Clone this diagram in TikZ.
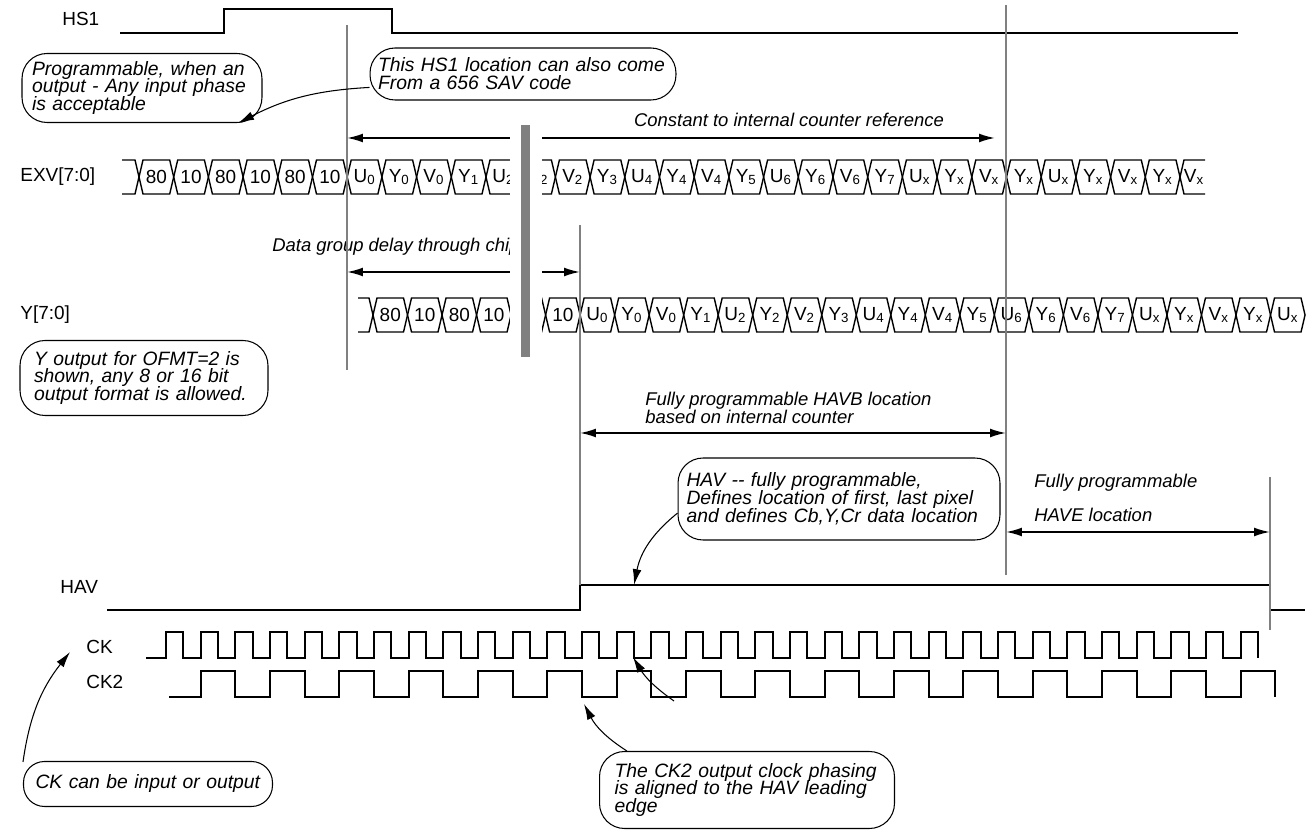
\documentclass[tikz,border=0pt]{standalone}
\usepackage{fontspec}
\setmainfont{Liberation Sans}
\usetikzlibrary{arrows.meta}

\begin{document}
\begin{tikzpicture}[x=0.02cm,y=-0.02cm,font=\fontsize{10.8}{12}\selectfont,
  sig/.style={anchor=west,inner sep=0pt},
  wave/.style={line width=1.1pt},
  bus/.style={line width=0.8pt},
  guide/.style={draw=gray,line width=1.1pt},
  note/.style={draw,line width=0.6pt,rounded corners=0.5cm,align=left,inner ysep=0pt,
    font={\fontsize{11}{10.2}\selectfont\itshape\lineskiplimit=-10pt\hyphenpenalty=10000}},
  remark/.style={inner sep=0pt,font={\fontsize{10.5}{10.4}\selectfont\itshape}},
  dim/.style={line width=1pt,{Latex[length=9pt,width=5pt]}-{Latex[length=9pt,width=5pt]}},
  pointer/.style={line width=0.6pt,-{Latex[length=9pt,width=5pt]}}]

\useasboundingbox (0,0) rectangle (1313,830);

% signal names
\node[sig] (hs1) at (62,19) {HS1};
\node[sig] (exv) at (20,177) {EXV[7:0]};
\node[sig] (ylbl) at (20,315) {Y[7:0]};
\node[sig] (hav) at (60,587) {HAV};
\node[sig] (ck) at (86,647) {CK};
\node[sig] (ck2) at (86,682) {CK2};

% HS1 and HAV
\draw[wave] (120,33) -- (224,33) -- (224,9) -- (392,9) -- (392,33) -- (1238,33);
\draw[wave] (107,610) -- (580,610) -- (580,585) -- (1270,585) -- (1270,610) -- (1305,610);

% clocks
\draw[wave] (146,658) \foreach \k in {0,...,31} { -- ({166+34.67*\k},658) -- ++(0,-26) -- ++(17.33,0) -- ++(0,26) };
\draw[wave] (169,697) \foreach \k in {1,3,...,31} { -- ({166+34.67*\k},697) -- ++(0,-26) -- ++(34.67,0) -- ++(0,26) };

% EXV bus
\draw[bus] (122,160) -- (135,160) -- (139,177) -- (135,194) -- (122,194);
\foreach \lbl [count=\i from 0] in {80,10,80,10,80,10,U\textsubscript{0},Y\textsubscript{0},V\textsubscript{0},Y\textsubscript{1},U\textsubscript{2},Y\textsubscript{2},V\textsubscript{2},Y\textsubscript{3},U\textsubscript{4},Y\textsubscript{4},V\textsubscript{4},Y\textsubscript{5},U\textsubscript{6},Y\textsubscript{6},V\textsubscript{6},Y\textsubscript{7},U\textsubscript{x},Y\textsubscript{x},V\textsubscript{x},Y\textsubscript{x},U\textsubscript{x},Y\textsubscript{x},V\textsubscript{x},Y\textsubscript{x}} {
  \pgfmathsetmacro\xl{139+34.7*\i}
  \pgfmathsetmacro\xr{\xl+34.7}
  \draw[bus] (\xl,177) -- (\xl+4,160) -- (\xr-4,160) -- (\xr,177) -- (\xr-4,194) -- (\xl+4,194) -- cycle;
  \node (exv\i) at ({(\xl+\xr)/2},177) {\lbl};
}
\draw[bus] (1205,160) -- (1184,160) -- (1180,177) -- (1184,194) -- (1205,194);
\node (exv30) at (1194,177) {V\textsubscript{x}};

% Y bus
\draw[bus] (358,298) -- (369,298) -- (373,315) -- (369,332) -- (358,332);
\foreach \lbl [count=\i from 0] in {80,10,80,10,80,10,U\textsubscript{0},Y\textsubscript{0},V\textsubscript{0},Y\textsubscript{1},U\textsubscript{2},Y\textsubscript{2},V\textsubscript{2},Y\textsubscript{3},U\textsubscript{4},Y\textsubscript{4},V\textsubscript{4},Y\textsubscript{5},U\textsubscript{6},Y\textsubscript{6},V\textsubscript{6},Y\textsubscript{7},U\textsubscript{x},Y\textsubscript{x},V\textsubscript{x},Y\textsubscript{x},U\textsubscript{x}} {
  \pgfmathsetmacro\xl{373+34.52*\i}
  \pgfmathsetmacro\xr{\xl+34.52}
  \draw[bus] (\xl,315) -- (\xl+4,298) -- (\xr-4,298) -- (\xr,315) -- (\xr-4,332) -- (\xl+4,332) -- cycle;
  \node (ybus\i) at ({(\xl+\xr)/2},315) {\lbl};
}

% timing remarks
\coordinate (cl) at (347,138);
\coordinate (cr) at (995,138);
\coordinate (dl) at (347,272);
\coordinate (dr) at (580,272);
\node[remark] (constlbl) at (789,120) {Constant to internal counter reference};
\draw[dim] (cl) -- (cr);
\node[remark,anchor=west] (delaylbl) at (272,247) {Data group delay through chip};
\draw[dim] (dl) -- (dr);

% break in the data
\fill[white] (510,110) rectangle (542,362);
\fill[gray] (521,125) rectangle (530,357);

% guide lines
\draw[guide] (347,25) -- (347,370);
\draw[guide] (580,225) -- (580,610);
\draw[guide] (1006,5) -- (1006,575);
\draw[guide] (1270,477) -- (1270,630);
\draw[wave] (580,610) -- (580,585);

% HAVB / HAVE
\coordinate (bl) at (580,433);
\coordinate (br) at (1006,433);
\coordinate (el) at (1006,532);
\coordinate (er) at (1270,532);
\node[remark,anchor=west,align=left] (havblbl) at (645,408) {Fully programmable HAVB location\\based on internal counter};
\draw[dim] (bl) -- (br);
\node[remark,anchor=west] (havelbl) at (1034,483) {Fully programmable};
\node[remark,anchor=west] (havelbl2) at (1034,515) {HAVE location};
\draw[dim] (el) -- (er);

% callouts
\node[note,minimum height=1.38cm,text width=4.4cm,inner xsep=0.2cm] (prog) at (142,88) {Programmable, when an\\output - Any input phase\\is acceptable};
\node[note,minimum height=1.04cm,text width=5.8cm,inner xsep=0.16cm] (sav) at (523,74) {This HS1 location can also come\\From a 656 SAV code};
\node[note,minimum height=1.5cm,text width=4.4cm,inner xsep=0.28cm] (ofmt) at (144,378) {Y output for OFMT=2 is\\shown, any 8 or 16 bit\\output format is allowed.};
\node[note,minimum height=1.64cm,text width=6.1cm,inner xsep=0.17cm] (havnote) at (839,499) {HAV -{}- fully programmable,\\Defines location of first, last pixel\\and defines Cb,Y,Cr data location};
\node[note,rounded corners=0.42cm,minimum height=0.9cm,text width=4.5cm,inner xsep=0.24cm] (cknote) at (148,784) {CK can be input or output};
\node[note,minimum height=1.54cm,text width=5.3cm,inner xsep=0.3cm] (phase) at (747,790) {The CK2 output clock phasing\\is aligned to the HAV leading\\edge};

\coordinate (havpt) at (634,585);
\coordinate (ckpt) at (70,652);
\coordinate (ck2pt) at (584,704);
\coordinate (ckfall) at (633,657);
\coordinate (ckfrom) at (674,701);

\draw[pointer] (sav.185) to[bend right=12] (prog.-20);
\draw[pointer] (havnote.185) to[bend right=20] (havpt);
\draw[pointer] (cknote.170) to[bend left=15] (ckpt);
\draw[pointer] (phase.162) to[bend left=15] (ck2pt);
\draw[pointer] (ckfrom) to[bend left=12] (ckfall);

\end{tikzpicture}
\end{document}
